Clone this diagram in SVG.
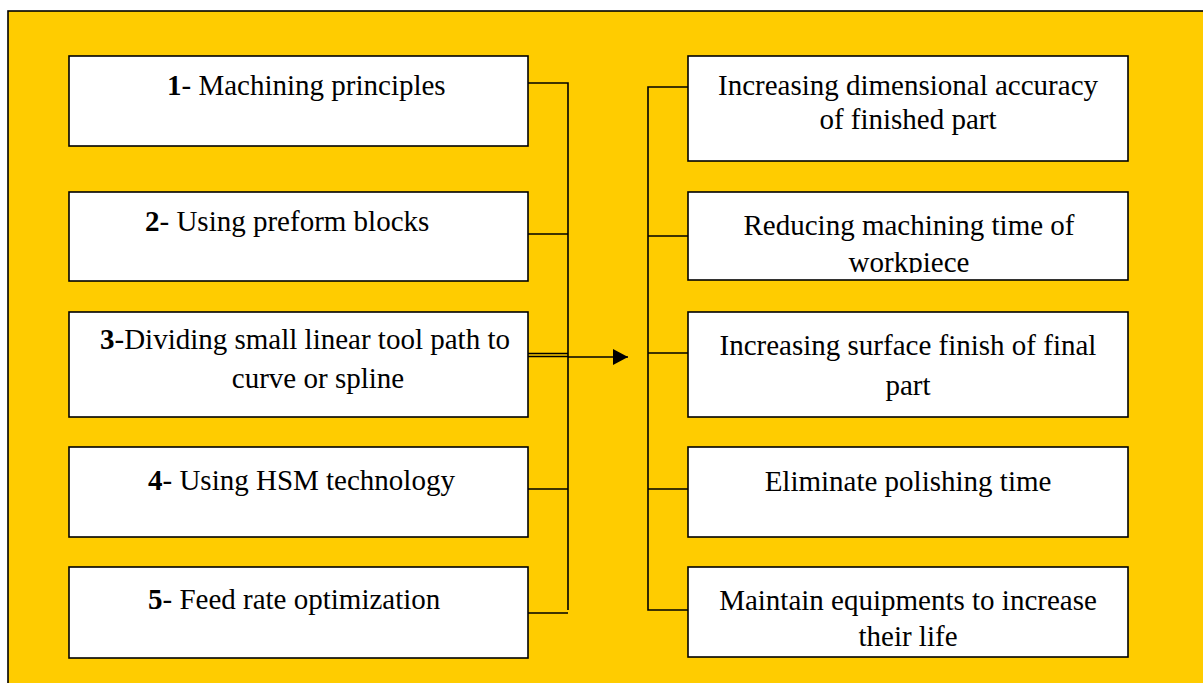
<svg xmlns="http://www.w3.org/2000/svg" width="1203" height="683" viewBox="0 0 1203 683">
<style>
.box{fill:#fff;stroke:#000;stroke-width:1.6}
.t{font-size:29px;fill:#000}
.c{text-anchor:middle}
.ln{stroke:#000;stroke-width:1.6;fill:none}
</style>
<defs>
<marker id="ah" markerWidth="16" markerHeight="16" refX="15" refY="8" orient="auto" markerUnits="userSpaceOnUse">
<path d="M0,0 L15,8 L0,16 Z" fill="#000"/>
</marker>
<clipPath id="cr2"><rect x="688" y="192" width="440" height="81"/></clipPath>
<clipPath id="cr5"><rect x="688" y="567" width="440" height="79"/></clipPath>
</defs>
<rect x="0" y="0" width="1203" height="683" fill="#fff"/>
<rect x="8" y="11" width="1200" height="680" fill="#FFCC00" stroke="#000" stroke-width="1.6"/>

<g id="connectors">
<path class="ln" d="M528,83 H568 V610 M528,234 H568 M528,489 H568 M528,613 H568"/>
<path class="ln" d="M528,353.5 H568 M528,356.5 H568" stroke-width="1.2"/>
<line class="ln" x1="568" y1="357" x2="628" y2="357" marker-end="url(#ah)"/>
<path class="ln" d="M688,87 H648 V610 H688 M648,236 H688 M648,353 H688 M648,489 H688"/>
</g>

<g font-family="Liberation Serif, DejaVu Serif, serif">
<g id="l1"><rect class="box" x="69" y="56" width="459" height="90"/>
<text class="t" x="167" y="95"><tspan font-weight="bold">1</tspan>- Machining principles</text></g>
<g id="l2"><rect class="box" x="69" y="192" width="459" height="89"/>
<text class="t" x="145" y="231"><tspan font-weight="bold">2</tspan>- Using preform blocks</text></g>
<g id="l3"><rect class="box" x="69" y="312" width="459" height="105"/>
<text class="t" x="100" y="349"><tspan font-weight="bold">3</tspan>-Dividing small linear tool path to</text>
<text class="t c" x="318" y="388">curve or spline</text></g>
<g id="l4"><rect class="box" x="69" y="447" width="459" height="90"/>
<text class="t" x="148" y="490"><tspan font-weight="bold">4</tspan>- Using HSM technology</text></g>
<g id="l5"><rect class="box" x="69" y="567" width="459" height="91"/>
<text class="t" x="148" y="609"><tspan font-weight="bold">5</tspan>- Feed rate optimization</text></g>

<g id="r1"><rect class="box" x="688" y="56" width="440" height="105"/>
<text class="t c" x="908" y="95">Increasing dimensional accuracy</text>
<text class="t c" x="908" y="129">of finished part</text></g>
<g id="r2"><rect class="box" x="688" y="192" width="440" height="88"/>
<g clip-path="url(#cr2)">
<text class="t c" x="909" y="235">Reducing machining time of</text>
<text class="t c" x="909" y="272">workpiece</text></g></g>
<g id="r3"><rect class="box" x="688" y="312" width="440" height="105"/>
<text class="t c" x="908" y="355">Increasing surface finish of final</text>
<text class="t c" x="908" y="395">part</text></g>
<g id="r4"><rect class="box" x="688" y="447" width="440" height="90"/>
<text class="t c" x="908" y="491">Eliminate polishing time</text></g>
<g id="r5"><rect class="box" x="688" y="567" width="440" height="90"/>
<g clip-path="url(#cr5)">
<text class="t c" x="908" y="610">Maintain equipments to increase</text>
<text class="t c" x="908" y="646">their life</text></g></g>
</g>
</svg>
